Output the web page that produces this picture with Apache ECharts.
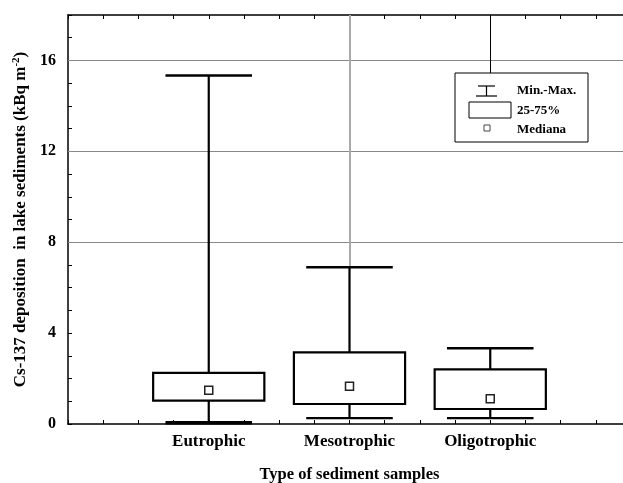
<!DOCTYPE html>
<html><head><meta charset="utf-8">
<script src="https://cdn.jsdelivr.net/npm/echarts@6/dist/echarts.min.js"></script>
<style>html,body{margin:0;padding:0;background:#fff}#c{width:623px;height:483px}</style>
</head><body><div id="c"></div>
<script>
var categories = ['Eutrophic', 'Mesotrophic', 'Oligotrophic'];
var categoryX = [4, 8, 12];
var minValues = [0.06, 0.26, 0.26];
var q1Values = [1.03, 0.88, 0.66];
var medianValues = [1.48, 1.66, 1.11];
var q3Values = [2.25, 3.15, 2.40];
var maxValues = [15.34, 6.90, 3.33];
var yTickLabels = [0, 4, 8, 12, 16];
var gridValues = [8, 12, 16];

var F = '"Liberation Serif", "DejaVu Serif", serif';
var data = categories.map(function (c, i) {
  return [categoryX[i], minValues[i], q1Values[i], medianValues[i], q3Values[i], maxValues[i]];
});

function renderBox(params, api) {
  var x = api.value(0);
  var pMin = api.coord([x, api.value(1)]);
  var pQ1 = api.coord([x, api.value(2)]);
  var pMed = api.coord([x, api.value(3)]);
  var pQ3 = api.coord([x, api.value(4)]);
  var pMax = api.coord([x, api.value(5)]);
  var boxL = api.coord([x - 1.58, 0])[0], boxR = api.coord([x + 1.58, 0])[0];
  var capL = api.coord([x - 1.23, 0])[0], capR = api.coord([x + 1.23, 0])[0];
  var stroke = {stroke: '#000', lineWidth: 2.2, fill: null};
  return {
    type: 'group',
    children: [
      {type: 'line', shape: {x1: pMin[0], y1: pMin[1], x2: pMax[0], y2: pMax[1]}, style: stroke},
      {type: 'line', shape: {x1: capL, y1: pMin[1], x2: capR, y2: pMin[1]}, style: {stroke: '#000', lineWidth: params.dataIndex === 0 ? 3.5 : 2.2}},
      {type: 'line', shape: {x1: capL, y1: pMax[1], x2: capR, y2: pMax[1]}, style: {stroke: '#000', lineWidth: 2.5}},
      {type: 'rect', shape: {x: boxL, y: pQ3[1], width: boxR - boxL, height: pQ1[1] - pQ3[1]}, style: {stroke: '#000', lineWidth: 2.2, fill: '#fff'}},
      {type: 'rect', shape: {x: pMed[0] - 4, y: pMed[1] - 4, width: 8, height: 8}, style: {stroke: '#222', lineWidth: 1.5, fill: '#fff'}}
    ]
  };
}

var chart = echarts.init(document.getElementById('c'));
var axisCommon = {
  type: 'value', min: 0, max: 16, interval: 1,
  axisLine: {lineStyle: {color: '#000', width: 1.5}},
  axisTick: {inside: true, length: 4, lineStyle: {color: '#000', width: 1}},
  splitLine: {show: false}
};
chart.setOption({
  animation: false,
  grid: {left: 68, top: 15, bottom: 59, right: -8, outerBoundsMode: 'none', containLabel: false},
  xAxis: [
    Object.assign({}, axisCommon, {
      position: 'bottom',
      name: 'Type of sediment samples', nameLocation: 'middle', nameGap: 42,
      nameTextStyle: {fontFamily: F, fontWeight: 'bold', fontSize: 16.5, color: '#000'},
      axisLabel: {
        margin: 9, fontFamily: F, fontWeight: 'bold', fontSize: 17, color: '#000',
        formatter: function (v) { var i = categoryX.indexOf(v); return i >= 0 ? categories[i] : ''; }
      }
    }),
    Object.assign({}, axisCommon, {position: 'top', axisLabel: {show: false}})
  ],
  yAxis: {
    type: 'value', min: 0, max: 18, interval: 1,
    axisLine: {lineStyle: {color: '#000', width: 1.5}},
    axisTick: {inside: true, length: 4, lineStyle: {color: '#000', width: 1}},
    splitLine: {show: false},
    axisLabel: {
      margin: 12, fontFamily: F, fontWeight: 'bold', fontSize: 16, color: '#000',
      formatter: function (v) { return yTickLabels.indexOf(v) >= 0 ? String(v) : ''; }
    },
    name: 'Cs-137 deposition  in lake sediments (kBq m{sup|-2})',
    nameLocation: 'middle', nameGap: 32,
    nameTextStyle: {
      fontFamily: F, fontWeight: 'bold', fontSize: 17, color: '#000',
      rich: {sup: {fontFamily: F, fontWeight: 'bold', fontSize: 11, color: '#000', verticalAlign: 'top', padding: [0, 0, 8, 0]}}
    }
  },
  series: [
    {
      type: 'line', data: [], silent: true,
      markLine: {
        silent: true, symbol: 'none', label: {show: false},
        lineStyle: {color: '#888', width: 1, type: 'solid'},
        data: gridValues.map(function (v) { return {yAxis: v}; }).concat([
          [{coord: [categoryX[1], 18], lineStyle: {color: '#aaa', width: 2}}, {coord: [categoryX[1], maxValues[1]]}],
          [{coord: [categoryX[2], 18], lineStyle: {color: '#000', width: 1}}, {coord: [categoryX[2], 15.4]}]
        ])
      }
    },
    {type: 'custom', renderItem: renderBox, data: data, z: 5, encode: {x: 0, y: [1, 2, 3, 4, 5]}}
  ],
  graphic: [
    {type: 'rect', z: 10, shape: {x: 455, y: 73, width: 133, height: 69}, style: {fill: '#fff', stroke: '#000', lineWidth: 1}},
    {type: 'line', z: 11, shape: {x1: 478, y1: 86, x2: 495, y2: 86}, style: {stroke: '#000', lineWidth: 1.2}},
    {type: 'line', z: 11, shape: {x1: 486.5, y1: 86, x2: 486.5, y2: 96}, style: {stroke: '#000', lineWidth: 1.2}},
    {type: 'line', z: 11, shape: {x1: 476, y1: 96, x2: 497, y2: 96}, style: {stroke: '#000', lineWidth: 1.2}},
    {type: 'text', z: 11, left: 517, top: 84, style: {text: 'Min.-Max.', font: 'bold 13px ' + F, fill: '#000'}},
    {type: 'rect', z: 11, shape: {x: 469, y: 102, width: 42, height: 16}, style: {fill: '#fff', stroke: '#000', lineWidth: 1}},
    {type: 'text', z: 11, left: 517, top: 104, style: {text: '25-75%', font: 'bold 13px ' + F, fill: '#000'}},
    {type: 'rect', z: 11, shape: {x: 484, y: 125, width: 6, height: 6}, style: {fill: '#fff', stroke: '#444', lineWidth: 1}},
    {type: 'text', z: 11, left: 517, top: 123, style: {text: 'Mediana', font: 'bold 13px ' + F, fill: '#000'}}
  ]
});
</script></body></html>
